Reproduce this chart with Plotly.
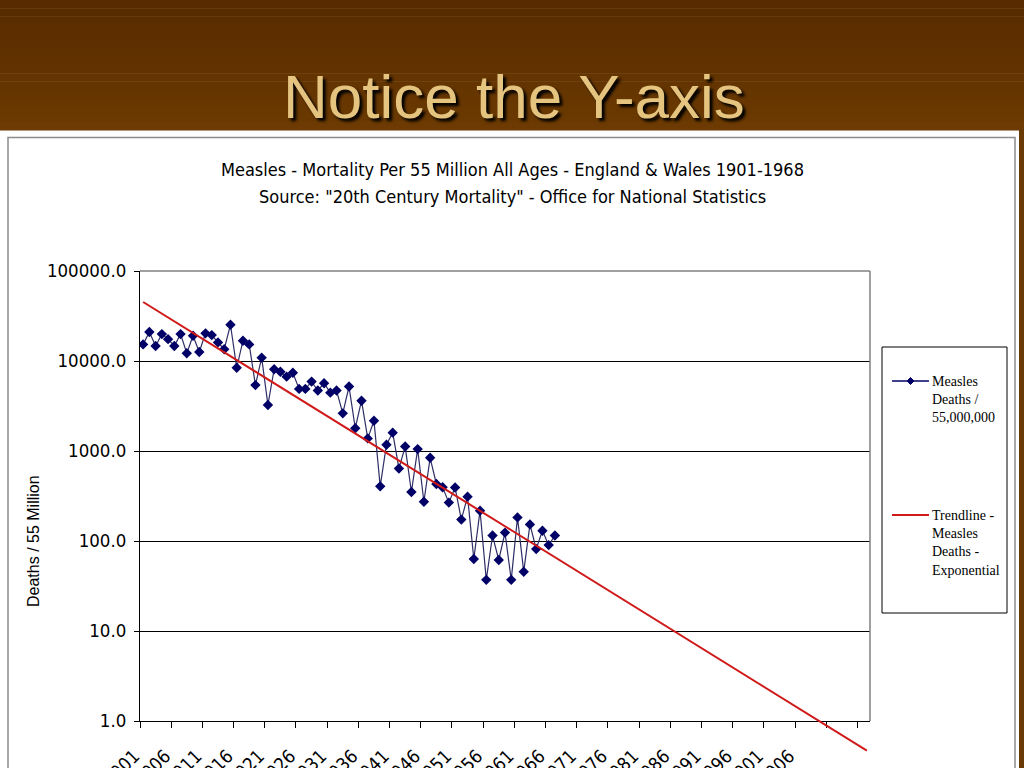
import numpy as np
import plotly.graph_objects as go

# ---------------- data ----------------
years = list(range(1901, 1968))
deaths = [15300, 21000, 14700, 19900, 17500, 14700, 19900, 12200, 19100, 12600,
          20300, 19400, 16100, 13500, 25300, 8400, 16800, 15300, 5400, 10900,
          3250, 8100, 7600, 6700, 7400, 4900, 4900, 5900, 4700, 5650,
          4450, 4700, 2620, 5200, 1790, 3620, 1380, 2170, 405, 1175,
          1600, 640, 1120, 350, 1050, 273, 840, 430, 395, 267,
          393, 173, 311, 63, 217, 37, 115, 61.5, 124, 37,
          183, 45.6, 153, 81.5, 130, 90, 115]
forecast_years = list(range(1901, 2018))
x_label_years = list(range(1901, 2007, 5))
x_tick_marks = [v - 0.5 for v in range(1901, 2017, 5)]
y_tick_values = [1, 10, 100, 1000, 10000, 100000]
y_tick_text = ["1.0", "10.0", "100.0", "1000.0", "10000.0", "100000.0"]

slide_title = "Notice the Y-axis"
chart_title_1 = "Measles - Mortality Per 55 Million All Ages - England & Wales 1901-1968"
chart_title_2 = 'Source: "20th Century Mortality" - Office for National Statistics'
y_title = "Deaths / 55 Million"
legend_1 = "Measles<br>Deaths /<br>55,000,000"
legend_2 = "Trendline -<br>Measles<br>Deaths -<br>Exponential"

# exponential trendline (least squares on log values, as a spreadsheet does)
coef = np.polyfit(np.array(years, dtype=float), np.log10(np.array(deaths, dtype=float)), 1)
trend = (10 ** np.polyval(coef, np.array(forecast_years, dtype=float))).tolist()

# ---------------- geometry helpers (pixels -> paper) ----------------
W, H = 1024, 768
L, R, T, B = 140, 870, 271, 721    # main plot area (pixels)
B2 = 768                            # lower edge of the overlay area for the trendline
DEC = (B - T) / 5.0                 # pixels per decade


def px(x):
    return (x - L) / (R - L)


def py(y):
    return (B2 - y) / (B2 - T)


COND = "DejaVu Sans Condensed, Liberation Sans Narrow, Arial Narrow, Liberation Sans, Arial, sans-serif"
SANS = "Liberation Sans, Arial, sans-serif"
SERIF = "Liberation Serif, Times New Roman, serif"

fig = go.Figure()
fig.add_trace(go.Scatter(
    x=forecast_years, y=trend, mode="lines", xaxis="x", yaxis="y2",
    line=dict(color="#D01A1A", width=2), name="Trendline", hoverinfo="skip"))
fig.add_trace(go.Scatter(
    x=years, y=deaths, mode="lines+markers", xaxis="x", yaxis="y",
    line=dict(color="#2E2E66", width=1.2),
    marker=dict(symbol="diamond", size=8, color="#000066"),
    name="Measles Deaths"))

shapes = []
# brown slide header gradient
top_c = np.array([0x58, 0x2C, 0x00])
bot_c = np.array([0x6C, 0x3A, 0x02])
n = 16
for i in range(n):
    c = top_c + (bot_c - top_c) * i / (n - 1)
    y0 = 130 * i / n
    y1 = 130 * (i + 1) / n
    shapes.append(dict(type="rect", xref="paper", yref="paper", layer="below",
                       x0=px(-5), x1=px(W + 5), y0=py(y1 + 0.5), y1=py(y0),
                       fillcolor="rgb(%d,%d,%d)" % tuple(c.astype(int)), line=dict(width=0)))
# right strip
shapes.append(dict(type="rect", xref="paper", yref="paper", layer="below",
                   x0=px(1019), x1=px(W + 5), y0=py(H + 5), y1=py(129),
                   fillcolor="#6A3A05", line=dict(width=0)))
# chart area border
shapes.append(dict(type="rect", xref="paper", yref="paper", layer="below",
                   x0=px(8), x1=px(1015), y0=py(H + 10), y1=py(137.5),
                   fillcolor="rgba(0,0,0,0)", line=dict(color="#8C8C8C", width=1.5)))
# plot frame top and right (gray)
shapes.append(dict(type="line", xref="paper", yref="paper", layer="above",
                   x0=0, x1=1, y0=py(T), y1=py(T), line=dict(color="#808080", width=1.5)))
shapes.append(dict(type="line", xref="paper", yref="paper", layer="above",
                   x0=1, x1=1, y0=py(B), y1=py(T), line=dict(color="#808080", width=1.5)))
# legend box
shapes.append(dict(type="rect", xref="paper", yref="paper", layer="above",
                   x0=px(882), x1=px(1007), y0=py(613), y1=py(347),
                   fillcolor="white", line=dict(color="#000000", width=1)))
# legend samples
shapes.append(dict(type="line", xref="paper", yref="paper", layer="above",
                   x0=px(892), x1=px(929), y0=py(381), y1=py(381),
                   line=dict(color="#000066", width=1.5)))
dx, dy = 3.5, 3.5
shapes.append(dict(type="path", xref="paper", yref="paper", layer="above",
                   path="M %f %f L %f %f L %f %f L %f %f Z" % (
                       px(910.5), py(381 - dy), px(910.5 + dx), py(381),
                       px(910.5), py(381 + dy), px(910.5 - dx), py(381)),
                   fillcolor="#000066", line=dict(color="#000066", width=1)))
shapes.append(dict(type="line", xref="paper", yref="paper", layer="above",
                   x0=px(892), x1=px(929), y0=py(515), y1=py(515),
                   line=dict(color="#D01A1A", width=2)))

annotations = [
    dict(text=slide_title, xref="paper", yref="paper", x=px(514), y=py(97),
         xanchor="center", yanchor="middle", showarrow=False,
         font=dict(family=SANS, size=62, color="#E4C47F", shadow="3px 3px 3px #000000")),
    dict(text=chart_title_1, xref="paper", yref="paper", x=px(512), y=py(170),
         xanchor="center", yanchor="middle", showarrow=False,
         font=dict(family=COND, size=18, color="#000000")),
    dict(text=chart_title_2, xref="paper", yref="paper", x=px(512), y=py(197),
         xanchor="center", yanchor="middle", showarrow=False,
         font=dict(family=COND, size=18, color="#000000")),
    dict(text=y_title, xref="paper", yref="paper", x=px(33), y=py(541),
         xanchor="center", yanchor="middle", showarrow=False, textangle=-90,
         font=dict(family=SANS, size=16, color="#000000")),
    dict(text=legend_1, xref="paper", yref="paper", x=px(930), y=py(372),
         xanchor="left", yanchor="top", align="left", showarrow=False,
         font=dict(family=SERIF, size=14, color="#000000")),
    dict(text=legend_2, xref="paper", yref="paper", x=px(930), y=py(506),
         xanchor="left", yanchor="top", align="left", showarrow=False,
         font=dict(family=SERIF, size=14, color="#000000")),
]

main_dom_lo = (B2 - B) / (B2 - T)
y2_lo = 0 - (B2 - B) / DEC

fig.update_layout(
    width=W, height=H,
    margin=dict(l=L, r=W - R, t=T, b=H - B2, autoexpand=False),
    paper_bgcolor="white", plot_bgcolor="rgba(0,0,0,0)",
    showlegend=False,
    shapes=shapes, annotations=annotations,
    xaxis=dict(
        range=[1900.5, 2017.5], tickmode="array", tickvals=x_label_years,
        ticktext=[str(v) for v in x_label_years], tickangle=-45, ticks="",
        tickfont=dict(family=COND, size=18.5, color="#000000"),
        ticklabelstandoff=16, ticklabelshift=-9,
        showgrid=False, zeroline=False, showline=True, linecolor="#000000", linewidth=1,
        automargin=False, anchor="y",
        minor=dict(tickmode="array", tickvals=x_tick_marks,
                   ticks="outside", ticklen=6, tickcolor="#000000", tickwidth=1, showgrid=False),
    ),
    yaxis=dict(
        domain=[main_dom_lo, 1],
        type="log", range=[0, 5], tickmode="array", tickvals=y_tick_values,
        ticktext=y_tick_text, ticks="outside", ticklen=5, tickcolor="#000000",
        tickfont=dict(family=COND, size=18.5, color="#000000"),
        showgrid=True, gridcolor="#000000", gridwidth=1,
        showline=True, linecolor="#000000", linewidth=1, zeroline=False,
        automargin=False, ticklabelstandoff=4,
    ),
    yaxis2=dict(
        domain=[0, 1], type="log", range=[y2_lo, 5], visible=False,
        showgrid=False, zeroline=False, anchor="x",
    ),
)

fig.write_html("out.html", config={"displayModeBar": False},
               post_script="document.body.style.margin='0';document.body.style.padding='0';")
